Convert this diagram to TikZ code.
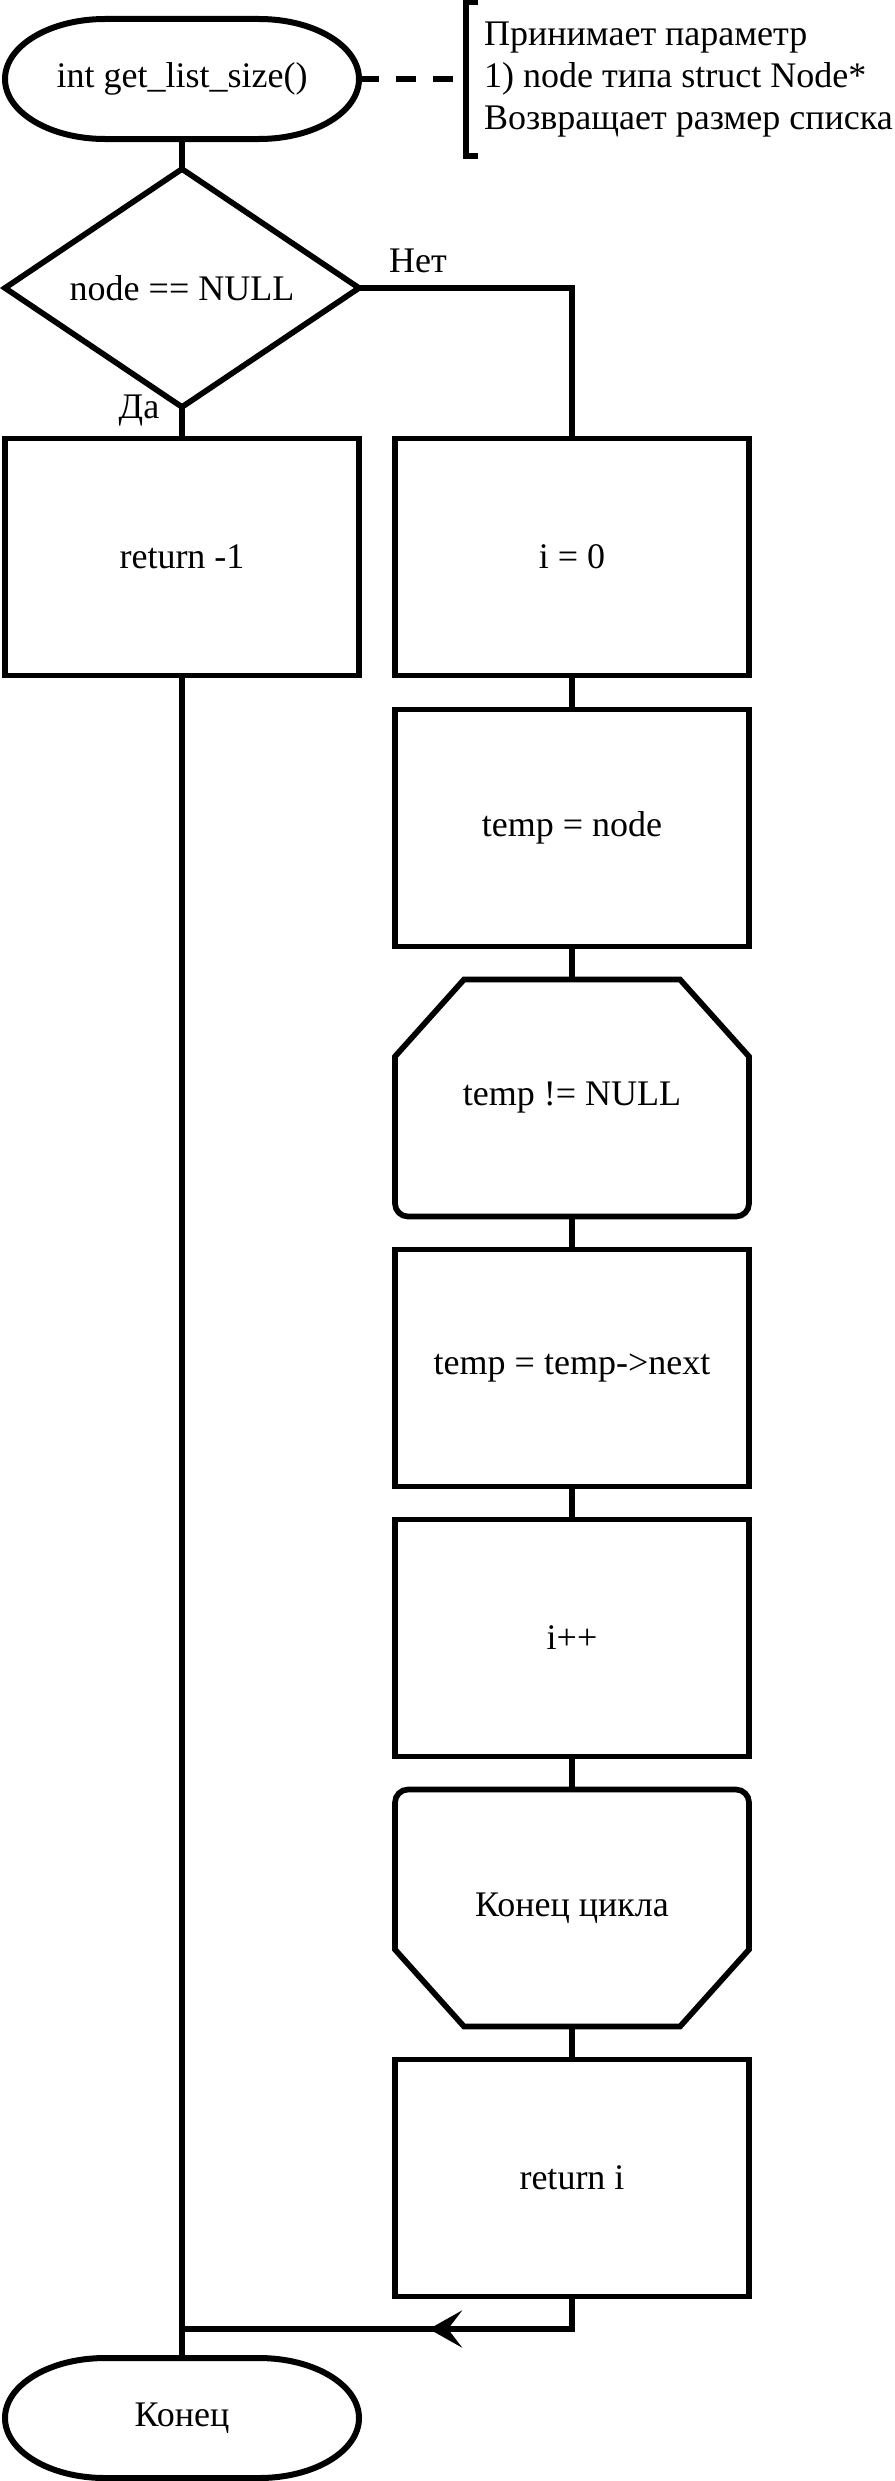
\documentclass[tikz,border=0pt]{standalone}
\usepackage{fontspec}
\setmainfont{Liberation Serif}
\usepackage{tikz}
\usetikzlibrary{arrows.meta,calc}

\begin{document}
\begin{tikzpicture}[x=1pt, y=1pt, >=Stealth,
  txt/.style={font=\fontsize{36}{42}\selectfont},
  blk/.style={txt, draw, line width=5.7pt, minimum width=354pt, minimum height=237pt, inner sep=0pt},
  loopblk/.style={txt, minimum width=354pt, minimum height=237pt, inner sep=0pt, outer sep=0pt},
  termblk/.style={txt, minimum width=354pt, minimum height=120pt, inner sep=0pt, outer sep=0pt},
  termline/.style={line width=6pt},
  wire/.style={line width=5.7pt}]
  \useasboundingbox (0,0) rectangle (894,-2481);
  \def\term#1{\draw[termline] ($(#1.north west)+(100,0)$) -- ($(#1.north east)+(-100,0)$)
    arc[start angle=90, end angle=-90, x radius=100, y radius=60]
    -- ($(#1.south west)+(100,0)$) arc[start angle=270, end angle=90, x radius=100, y radius=60] -- cycle;}
  % left column
  \node[termblk] (start) at (182,-79) {int get\_list\_size()};
  \term{start}
  \node[txt, minimum width=354pt, minimum height=238pt, inner sep=0pt, outer sep=0pt] (cond) at (182,-288) {node == NULL};
  \draw[wire, line join=miter] (cond.north) -- (cond.east) -- (cond.south) -- (cond.west) -- cycle;
  \node[blk] (ret1) at (182,-557) {return -1};
  \node[termblk] (end) at (182,-2418) {Конец};
  \term{end}
  % right column
  \node[blk] (i0) at (572,-557) {i = 0};
  \node[blk] (tmp) at (572,-828) {temp = node};
  \node[loopblk] (lbeg) at (572,-1098) {temp != NULL};
  \node[blk] (nxt) at (572,-1368) {temp = temp->next};
  \node[blk] (inc) at (572,-1638) {i++};
  \node[loopblk] (lend) at (572,-1908) {Конец цикла};
  \node[blk] (reti) at (572,-2178) {return i};
  \draw[wire] ($(lbeg.north west)+(69,0)$) -- ($(lbeg.north east)+(-69,0)$) -- ($(lbeg.north east)+(0,-77)$)
    -- ($(lbeg.south east)+(0,13)$) arc[start angle=0, end angle=-90, radius=13]
    -- ($(lbeg.south west)+(13,0)$) arc[start angle=270, end angle=180, radius=13]
    -- ($(lbeg.north west)+(0,-77)$) -- cycle;
  \draw[wire] ($(lend.south west)+(69,0)$) -- ($(lend.south east)+(-69,0)$) -- ($(lend.south east)+(0,77)$)
    -- ($(lend.north east)+(0,-13)$) arc[start angle=0, end angle=90, radius=13]
    -- ($(lend.north west)+(13,0)$) arc[start angle=90, end angle=180, radius=13]
    -- ($(lend.south west)+(0,77)$) -- cycle;
  % comment
  \coordinate (brk) at (466,-79);
  \node[txt, align=left, anchor=west, inner sep=0pt] (note) at (484,-80) {Принимает параметр\\1) node типа struct Node*\\Возвращает размер списка};
  \draw[line width=6pt, dash pattern=on 20pt off 17pt] (start.east) -- (brk);
  \draw[line width=5.5pt] (478,-2) -- (466,-2) -- (466,-156) -- (478,-156);
  % connectors
  \draw[wire] (start) -- (cond.north);
  \draw[wire] (cond.south) -- (ret1);
  \draw[wire] (cond.east) -| (i0.north);
  \node[txt] (no) at (418,-261) {Нет};
  \node[txt] (yes) at (139,-411) {Да};
  \foreach \a/\b in {i0/tmp, tmp/lbeg, lbeg/nxt, nxt/inc, inc/lend, lend/reti}
    \draw[wire] (\a.south) -- (\b.north);
  \draw[wire] (ret1.south) -- (end.north);
  \coordinate (jn) at (182,-2329);
  \coordinate (tip) at (429,-2329);
  \draw[wire] (reti.south) |- (jn);
  \draw[wire, -{Stealth[length=33pt, width=37pt, inset=14pt]}] (reti.south |- jn) -- (tip);
\end{tikzpicture}
\end{document}
